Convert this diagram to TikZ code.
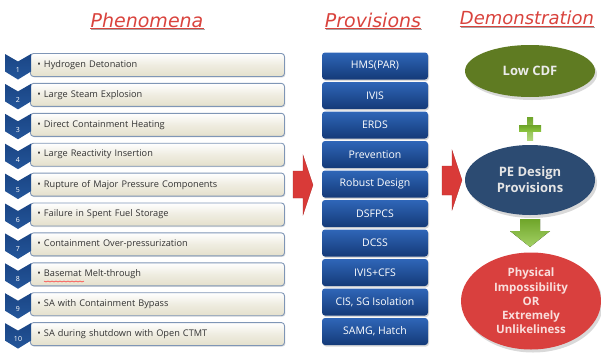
\documentclass[tikz,border=0pt]{standalone}
\usepackage{fontspec}
\setmainfont{Open Sans}
\newfontfamily\ttlfont{DejaVu Sans}
\usetikzlibrary{shadows,shapes.geometric}
\definecolor{phenfill}{HTML}{E4E0CC}
\definecolor{phenborder}{HTML}{7F96B6}
\definecolor{chevtop}{HTML}{24569A}
\definecolor{chevbot}{HTML}{1A4585}
\definecolor{provtop}{HTML}{2F66B8}
\definecolor{provbot}{HTML}{143A78}
\definecolor{ttlred}{HTML}{D9433D}
\definecolor{arrred}{HTML}{D93A38}
\definecolor{olivefill}{HTML}{5F7B22}
\definecolor{navyfill}{HTML}{2C4B72}
\definecolor{redfill}{HTML}{D9403E}
\definecolor{pinktext}{HTML}{F9DEDC}
\definecolor{greenarr}{HTML}{8DC63F}
\definecolor{greendark}{HTML}{6FA52A}
\begin{document}
\begin{tikzpicture}[x=1pt,y=-1pt,
  ttl/.style={font=\ttlfont\itshape\fontsize{19}{22}\selectfont, text=ttlred, inner sep=0pt},
  phen/.style={draw=phenborder, line width=0.9pt, rounded corners=3pt,
    top color=white, bottom color=phenfill, middle color=phenfill!60!white,
    minimum height=23pt, text width=240pt, inner xsep=7pt, inner ysep=0pt,
    align=left, anchor=west, text=black!80,
    font=\fontsize{9.2}{11}\selectfont,
    drop shadow={shadow xshift=1pt, shadow yshift=-1pt, opacity=0.25}},
  chev/.style={top color=chevbot, bottom color=chevtop},
  chevnum/.style={text=white, font=\fontsize{7}{8}\selectfont, inner sep=0pt},
  prov/.style={rounded corners=3pt, top color=provtop, bottom color=provbot,
    minimum width=106pt, minimum height=27pt, inner sep=0pt, text=white,
    font=\fontsize{10.5}{12}\selectfont,
    drop shadow={shadow xshift=1pt, shadow yshift=-1.5pt, opacity=0.3}},
  demo/.style={ellipse, inner sep=0pt, align=center,
    font=\bfseries\fontsize{13}{16}\selectfont,
    drop shadow={shadow xshift=2pt, shadow yshift=-3pt, opacity=0.3}},
  bigarrow/.style={fill=arrred, draw=arrred!80!black, line width=0.3pt}
]
\useasboundingbox (0,0) rectangle (601,356);

% titles
\node[ttl] (t1) at (147,20) {Phenomena};
\node[ttl] (t2) at (373,20) {Provisions};
\node[ttl, font=\ttlfont\itshape\fontsize{18}{22}\selectfont] (t3) at (527,18) {Demonstration};
\foreach \n in {t1,t2,t3}{
  \draw[black!35, line width=1.2pt] ([xshift=1pt,yshift=-2.2pt]\n.south west) -- ([xshift=1pt,yshift=-2.2pt]\n.south east);
  \draw[ttlred, line width=1.3pt] ([yshift=-1pt]\n.south west) -- ([yshift=-1pt]\n.south east);
}

% phenomena rows
\foreach \i/\t in {1/Hydrogen Detonation,2/Large Steam Explosion,3/Direct Containment Heating,
  4/Large Reactivity Insertion,5/Rupture of Major Pressure Components,6/Failure in Spent Fuel Storage,
  7/Containment Over-pressurization,8/Basemat Melt-through,9/SA with Containment Bypass,
  10/SA during shutdown with Open CTMT}{
  \pgfmathsetmacro{\yc}{65+(\i-1)*29.9}
  \node[phen] (ph\i) at (30,\yc) {\textbullet\ \t};
  \path[chev] (5,\yc-11) -- (18,\yc-3.5) -- (31,\yc-11) -- (31,\yc+6.5) -- (18,\yc+14.5) -- (5,\yc+6.5) -- cycle;
  \node[chevnum] (n\i) at (18,\yc+5) {\i};
}
% spelling squiggle under Basemat
\draw[red!80, line width=0.5pt] (44,281) \foreach \k in {1,...,10}{ -- ++(2,1) -- ++(2,-1)};

% provisions
\foreach \i/\t in {1/HMS(PAR),2/IVIS,3/ERDS,4/Prevention,5/Robust Design,6/DSFPCS,
  7/DCSS,8/IVIS+CFS,9/{CIS, SG Isolation},10/{SAMG, Hatch}}{
  \pgfmathsetmacro{\yc}{66+(\i-1)*29.5}
  \node[prov] (pv\i) at (375,\yc) {\t};
}

% big red arrows
\fill[bigarrow] (293,171) -- (303,171) -- (303,155) -- (313,185) -- (303,215) -- (303,198) -- (293,198) -- cycle;
\fill[bigarrow] (442,166) -- (452,166) -- (452,150) -- (462,180) -- (452,210) -- (452,195) -- (442,195) -- cycle;

% demonstration
\node[demo, fill=olivefill, text=white!92!black, minimum width=130pt, minimum height=52pt] (cdf) at (530,71) {Low CDF};
\node[demo, fill=navyfill, text=white!90!black, minimum width=130pt, minimum height=70pt] (pe) at (530,180) {PE Design\\Provisions};
\node[demo, fill=redfill, text=pinktext, minimum width=140pt, minimum height=97pt,
  font=\bfseries\fontsize{11.5}{14.3}\selectfont] (imp) at (531,301)
  {Physical\\Impossibility\\OR\\Extremely\\Unlikeliness};

% plus sign
\fill[top color=greendark, bottom color=greenarr!70!white] (527,117) rectangle (533,140);
\fill[top color=greendark, bottom color=greenarr] (519,125.5) rectangle (541,131.5);
% green down arrow
\fill[top color=greendark, bottom color=greenarr!80!white]
  (520,219) -- (540,219) -- (540,231) -- (550,231) -- (530,247) -- (510,231) -- (520,231) -- cycle;
\end{tikzpicture}
\end{document}
